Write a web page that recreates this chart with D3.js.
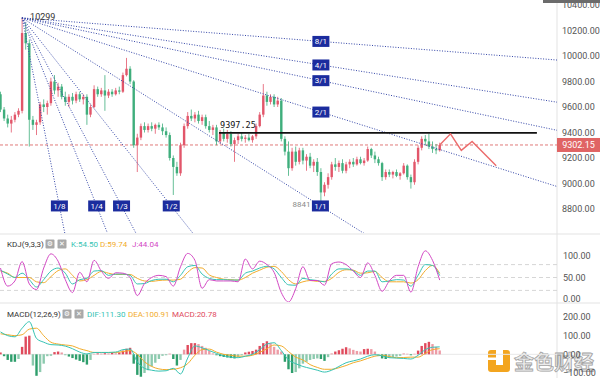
<!DOCTYPE html>
<html>
<head>
<meta charset="utf-8">
<script src="https://cdn.jsdelivr.net/npm/d3@7/dist/d3.min.js"></script>
<style>
  body { margin: 0; background: #fff; }
  svg { display: block; font-family: Roboto, "Noto Sans", sans-serif; }
</style>
</head>
<body>
<svg id="chart"></svg>
<script>
// ---- candles (one per bar) ----
const opens = [
  9700, 9580, 9510, 9470, 9500, 9540, 9570, 10180, 10100, 9500,
  9460, 9480, 9620, 9600, 9630, 9800, 9730, 9760, 9680, 9640,
  9680, 9650, 9700, 9660, 9680, 9540, 9600, 9740, 9700, 9730,
  9690, 9720, 9700, 9730, 9720, 9850, 9900, 9800, 9300, 9360,
  9450, 9420, 9450, 9430, 9460, 9440, 9410, 9380, 9200, 9130,
  9080, 9300, 9450, 9530, 9510, 9540, 9490, 9520, 9450, 9420,
  9440, 9330, 9400, 9350, 9390, 9310, 9340, 9370, 9350, 9360,
  9340, 9370, 9450, 9540, 9690, 9640, 9680, 9620, 9650, 9350,
  9250, 9120, 9250, 9170, 9260, 9180, 9210, 9140, 9170, 9090,
  8930, 8990, 9050, 9150, 9130, 9160, 9100, 9150, 9170, 9150,
  9190, 9160, 9180, 9270, 9220, 9190, 9160, 9050, 9090, 9070,
  9090, 9060, 9080, 9140, 9050, 9010, 9170, 9280, 9350, 9330,
  9290, 9270, 9260
];
const highs = [
  9720, 9600, 9540, 9530, 9560, 9590, 10299, 10260, 10130, 9530,
  9500, 9640, 9660, 9650, 9830, 9850, 9790, 9780, 9720, 9700,
  9710, 9720, 9720, 9700, 9700, 9620, 9770, 9760, 9750, 9850,
  9740, 9740, 9750, 9760, 9870, 9985, 9920, 9810, 9390, 9470,
  9480, 9470, 9480, 9470, 9480, 9470, 9440, 9400, 9220, 9170,
  9320, 9470, 9560, 9580, 9560, 9570, 9540, 9540, 9490, 9460,
  9460, 9420, 9430, 9420, 9410, 9360, 9390, 9400, 9380, 9390,
  9380, 9470, 9560, 9780, 9720, 9700, 9700, 9680, 9670, 9370,
  9330, 9280, 9290, 9280, 9280, 9230, 9240, 9190, 9200, 9120,
  9010, 9080, 9170, 9200, 9180, 9190, 9170, 9190, 9200, 9210,
  9210, 9200, 9290, 9280, 9250, 9210, 9170, 9110, 9110, 9100,
  9110, 9090, 9160, 9150, 9070, 9190, 9300, 9370, 9380, 9390,
  9330, 9310, 9320
];
const lows = [
  9560, 9490, 9440, 9400, 9480, 9520, 9550, 10050, 9290, 9420,
  9380, 9460, 9560, 9540, 9610, 9700, 9680, 9660, 9610, 9600,
  9620, 9630, 9640, 9620, 9460, 9520, 9590, 9680, 9680, 9570,
  9670, 9680, 9690, 9700, 9710, 9840, 9780, 9280, 9090, 9340,
  9400, 9400, 9410, 9390, 9420, 9380, 9360, 9180, 8910, 9060,
  9060, 9280, 9430, 9490, 9480, 9470, 9460, 9430, 9400, 9380,
  9300, 9310, 9330, 9320, 9290, 9170, 9310, 9330, 9320, 9330,
  9320, 9350, 9440, 9520, 9610, 9620, 9600, 9600, 9330, 9220,
  9060, 9100, 9140, 9150, 9150, 9100, 9120, 9090, 9060, 8841,
  8900, 8960, 9030, 9100, 9090, 9080, 9080, 9120, 9130, 9140,
  9150, 9140, 9170, 9200, 9160, 9140, 9020, 9030, 9050, 9040,
  9050, 9030, 9070, 9030, 8960, 8990, 9150, 9260, 9300, 9270,
  9240, 9230, 9250
];
const closes = [
  9580, 9510, 9470, 9500, 9540, 9570, 10180, 10100, 9500, 9460,
  9480, 9620, 9600, 9630, 9800, 9730, 9760, 9680, 9640, 9680,
  9650, 9700, 9660, 9680, 9540, 9600, 9740, 9700, 9730, 9690,
  9720, 9700, 9730, 9720, 9850, 9900, 9800, 9300, 9360, 9450,
  9420, 9450, 9430, 9460, 9440, 9410, 9380, 9200, 9130, 9080,
  9300, 9450, 9530, 9510, 9540, 9490, 9520, 9450, 9420, 9440,
  9330, 9400, 9350, 9390, 9310, 9340, 9370, 9350, 9360, 9340,
  9370, 9450, 9540, 9690, 9640, 9680, 9620, 9650, 9350, 9250,
  9120, 9250, 9170, 9260, 9180, 9210, 9140, 9170, 9090, 8930,
  8990, 9050, 9150, 9130, 9160, 9100, 9150, 9170, 9150, 9190,
  9160, 9180, 9270, 9220, 9190, 9160, 9050, 9090, 9070, 9090,
  9060, 9080, 9140, 9050, 9010, 9170, 9280, 9350, 9330, 9290,
  9270, 9260, 9302.15
];

// ---- indicator lines, read every 2nd bar ----
const sampleBars = d3.range(0, 123, 2);
const kVals = [67,58,50,60,45,28,45,65,72,60, 35,45,48,65,66,55,58,58,55,35, 36,43,46,46,40,55,75,78,58,48,
  45,45,44,44,60,65,72,76,70,50, 33,32,48,45,43,40,58,70,70,66, 55,65,65,40,42,45,44,30,55,80, 78,54.5];
const dVals = [65,60,50,50,50,40,38,52,66,70, 55,42,45,55,64,60,57,57,57,48, 42,41,43,44,44,46,62,73,72,56,
  50,46,45,44,50,60,67,74,76,64, 45,35,40,43,41,41,48,62,68,67, 60,61,64,50,40,40,40,37,45,66, 78,59.74];
const jVals = [72,30,42,87,35,22,72,105,88,45, 15,62,40,90,65,48,61,60,50,8, 36,50,55,52,30,75,106,90,25,45,
  42,42,42,40,93,70,88,80,62,15, -7,24,75,43,43,32,82,86,80,65, 50,84,55,18,42,55,55,16,75,112, 90,44.04];
const difVals = [120,100,94,140,175,85,65,52,50,44, 30,12,2,10,10,10,12,25,28,-40, -75,-85,-90,-88,-75,-105,-20,45,35,20,
  5,-8,-15,-18,-10,0,25,55,62,20, -30,-50,-65,-75,-85,-95,-85,-65,-45,-35, -25,-10,-2,-8,-18,-20,-22,-25,-5,25, 38,40];
const deaVals = [110,105,100,105,135,140,100,65,55,50, 45,30,20,10,10,10,10,15,20,0, -40,-65,-78,-82,-80,-72,-50,-5,25,28,
  12,0,-5,-10,-10,-5,10,30,50,45, 15,-15,-30,-55,-70,-80,-80,-72,-60,-45, -35,-22,-10,-5,-12,-18,-17,-15,-15,5, 25,30];
// MACD histogram, one per bar
const histVals = [
  10,-10,-30,-40,-40,-25,40,95,100,-60,
  -115,-95,-50,-10,-8,12,15,10,-5,-12,
  -20,-28,-35,-42,-55,-30,3,5,4,6,
  5,8,6,10,20,30,35,-50,-110,-120,
  -100,-85,-65,-45,-25,-8,-5,4,-25,-60,
  -30,25,50,60,60,55,45,35,18,5,
  -5,-10,-14,-17,-20,-22,-15,-5,10,14,
  18,25,45,60,70,60,40,25,15,-40,
  -80,-100,-95,-75,-50,-40,-30,-25,-22,-25,
  -35,-15,5,15,22,30,38,32,24,18,
  15,28,30,28,15,-10,-22,-25,-20,-15,
  -12,-8,5,3,-5,3,20,45,60,67,
  55,40,20.78
];

// ---- drawings ----
const fanLabels = ["1/8","1/4","1/3","1/2","1/1","2/1","3/1","4/1","8/1"];
const fanFactors = [8, 4, 3, 2, 1, 1/2, 1/3, 1/4, 1/8];
const fanOriginBar = 6, fanOriginPrice = 10299, fanUnit = 17.8;
const levelPrice = 9397.25, levelFrom = 60.7, levelTo = 149;
const lastPrice = 9302.15;
const projBars = [122, 125, 128, 131, 137.7];
const projPrices = [9302.15, 9390, 9260, 9330, 9140];

const priceTicks = [8800, 9000, 9200, 9400, 9600, 9800, 10000, 10200, 10400];
const kdjTicks = [0, 50, 100];
const kdjLevels = [20, 50, 80];
const macdTicks = [-100, 0, 100, 200];

const W = 600, H = 378, right = 557;
const red = '#e2566a', green = '#3fae7c';
const cK = '#35c3b3', cD = '#f2ac2b', cJ = '#d348c4';

const svg = d3.select('#chart').attr('width', W).attr('height', H);
const defs = svg.append('defs');
function clip(id, y0, h) {
  defs.append('clipPath').attr('id', id).append('rect')
    .attr('x', 0).attr('y', y0).attr('width', right).attr('height', h);
}
clip('cMain', 0, 233);
clip('cKdj', 235, 67);
clip('cMacd', 304, 74);

const x = d3.scaleLinear().domain([0, 154]).range([0.5, 0.5 + 3.6 * 154]);
const yP = d3.scaleLinear().domain([8800, 10400]).range([209, 5]);
const yK = d3.scaleLinear().domain([0, 100]).range([299, 256]);
const yM = d3.scaleLinear().domain([-100, 200]).range([373, 317]);
const bw = 2.4;

// panel frames
svg.append('line').attr('x1', right).attr('x2', right).attr('y1', 0).attr('y2', H)
  .attr('stroke', '#e3e3e3');
[234, 303].forEach(y => svg.append('line').attr('x1', 0).attr('x2', W)
  .attr('y1', y).attr('y2', y).attr('stroke', '#e3e3e3'));

// ---- watermark (under everything else) ----
const wm = svg.append('g');
wm.append('rect').attr('x', 488).attr('y', 350).attr('width', 22).attr('height', 22).attr('rx', 3)
  .attr('fill', '#f3a51f');
wm.append('rect').attr('x', 496).attr('y', 348).attr('width', 7).attr('height', 17).attr('fill', '#fff');
wm.append('rect').attr('x', 486).attr('y', 357.5).attr('width', 10).attr('height', 2.5).attr('fill', '#fff');
wm.append('text').attr('x', 514).attr('y', 370)
  .attr('fill', '#ececec').attr('stroke', '#a3a3a3').attr('stroke-width', 0.8)
  .style('font-family', '"Noto Sans CJK SC", sans-serif').style('font-size', '20px').style('font-weight', 'bold')
  .text('金色财经');

// ---- main panel ----
const main = svg.append('g').attr('clip-path', 'url(#cMain)');
const candles = d3.range(closes.length).map(i => ({i, o: opens[i], h: highs[i], l: lows[i], c: closes[i]}));

main.append('line')
  .attr('x1', 0).attr('x2', right)
  .attr('y1', yP(lastPrice)).attr('y2', yP(lastPrice))
  .attr('stroke', '#e07a7a').attr('stroke-dasharray', '3,2');

const cg = main.selectAll('g.candle').data(candles).join('g').attr('class', 'candle');
cg.append('line')
  .attr('x1', d => x(d.i)).attr('x2', d => x(d.i))
  .attr('y1', d => yP(d.h)).attr('y2', d => yP(d.l))
  .attr('stroke', d => d.c >= d.o ? red : green).attr('stroke-width', 0.8);
cg.append('rect')
  .attr('x', d => x(d.i) - bw / 2).attr('width', bw)
  .attr('y', d => yP(Math.max(d.o, d.c)))
  .attr('height', d => Math.max(1, Math.abs(yP(d.o) - yP(d.c))))
  .attr('fill', d => d.c >= d.o ? red : green);

// gann fan
fanFactors.forEach((f, k) => {
  const endBar = 220;
  main.append('line')
    .attr('x1', x(fanOriginBar)).attr('y1', yP(fanOriginPrice))
    .attr('x2', x(endBar)).attr('y2', yP(fanOriginPrice - fanUnit * f * (endBar - fanOriginBar)))
    .attr('stroke', '#3446a8').attr('stroke-width', 1).attr('stroke-dasharray', '1,1.6');
});
fanFactors.forEach((f, k) => {
  const lb = Math.min(89, fanOriginBar + (fanOriginPrice - 8824) / (fanUnit * f));
  const lp = fanOriginPrice - fanUnit * f * (lb - fanOriginBar);
  const g = main.append('g').attr('transform', `translate(${x(lb)},${yP(lp)})`);
  g.append('rect').attr('x', -8.5).attr('y', -5.5).attr('width', 17).attr('height', 11)
    .attr('fill', '#1b2c9e');
  g.append('text').attr('text-anchor', 'middle').attr('dy', '0.35em')
    .attr('fill', '#fff').style('font-size', '8px').text(fanLabels[k]);
});

main.append('text')
  .attr('x', x(fanOriginBar) + 8).attr('y', yP(fanOriginPrice) + 2)
  .attr('fill', '#333').style('font-size', '9px').text('10299');
main.append('text')
  .attr('x', x(89) - 10.5).attr('y', yP(8841) + 3).attr('text-anchor', 'end')
  .attr('fill', '#8a8a8a').style('font-size', '8px').text('8841');

// horizontal level
main.append('line')
  .attr('x1', x(levelFrom)).attr('x2', x(levelTo))
  .attr('y1', yP(levelPrice)).attr('y2', yP(levelPrice))
  .attr('stroke', '#111').attr('stroke-width', 1.6);
main.append('text')
  .attr('x', x(levelFrom) + 1).attr('y', yP(levelPrice) - 5)
  .attr('fill', '#111').style('font-family', '"DejaVu Sans Mono", monospace').style('font-size', '8.5px')
  .text(levelPrice.toFixed(2));

// projected path
main.append('path')
  .attr('d', d3.line().x((d, i) => x(projBars[i])).y(d => yP(d))(projPrices))
  .attr('fill', 'none').attr('stroke', '#ec6b6b').attr('stroke-width', 1.4);

// price axis
const axisStyle = g => {
  g.select('.domain').remove();
  g.selectAll('text').attr('fill', '#555').style('font-size', '9px')
    .style('font-family', 'Roboto, sans-serif');
};
svg.append('g').attr('transform', `translate(${right},0)`)
  .call(d3.axisRight(yP).tickValues(priceTicks).tickSize(0).tickPadding(5).tickFormat(d3.format('.2f')))
  .call(axisStyle);
svg.append('rect').attr('x', 543).attr('y', 0).attr('width', 57).attr('height', 3).attr('fill', '#6b6b6b');

// last price tag
svg.append('rect').attr('x', right).attr('y', yP(lastPrice) - 7).attr('width', 43).attr('height', 14)
  .attr('fill', '#e06464');
svg.append('text').attr('x', right + 21.5).attr('y', yP(lastPrice)).attr('dy', '0.35em')
  .attr('text-anchor', 'middle').attr('fill', '#fff').style('font-size', '9px')
  .text(lastPrice.toFixed(2));

// ---- KDJ panel ----
const kdj = svg.append('g').attr('clip-path', 'url(#cKdj)');
kdjLevels.forEach(v => kdj.append('line')
  .attr('x1', 0).attr('x2', right).attr('y1', yK(v)).attr('y2', yK(v))
  .attr('stroke', '#d6d6d6').attr('stroke-dasharray', '4,3'));
[[dVals, cD], [kVals, cK], [jVals, cJ]].forEach(([vals, col]) => {
  kdj.append('path')
    .attr('d', d3.line().curve(d3.curveMonotoneX).x((d, i) => x(sampleBars[i])).y(d => yK(d))(vals))
    .attr('fill', 'none').attr('stroke', col).attr('stroke-width', 1);
});
svg.append('g').attr('transform', `translate(${right},0)`)
  .call(d3.axisRight(yK).tickValues(kdjTicks).tickSize(0).tickPadding(6).tickFormat(d3.format('.2f')))
  .call(axisStyle);

function header(y, items, iconX) {
  const g = svg.append('g');
  items.forEach(it => g.append('text').attr('x', it.x).attr('y', y).attr('dy', '0.35em')
    .attr('fill', it.c).style('font-size', '8px').text(it.t));
  iconX.forEach((ix, k) => {
    g.append('rect').attr('x', ix).attr('y', y - 4.5).attr('width', 9).attr('height', 9)
      .attr('rx', 1).attr('fill', '#a9a9a9');
    g.append('text').attr('x', ix + 4.5).attr('y', y).attr('dy', '0.35em').attr('text-anchor', 'middle')
      .attr('fill', '#fff').style('font-size', '7px').style('font-family', '"DejaVu Sans", sans-serif')
      .text(k === 0 ? '\u2699' : '\u2715');
  });
}
header(244, [
  {x: 7, t: 'KDJ(9,3,3)', c: '#333'},
  {x: 71, t: 'K:' + kVals[kVals.length - 1].toFixed(2), c: cK},
  {x: 100, t: 'D:' + dVals[dVals.length - 1].toFixed(2), c: cD},
  {x: 132, t: 'J:' + jVals[jVals.length - 1].toFixed(2), c: cJ}
], [45.5, 57.5]);

// ---- MACD panel ----
const macd = svg.append('g').attr('clip-path', 'url(#cMacd)');
macd.append('line').attr('x1', 0).attr('x2', right).attr('y1', yM(0)).attr('y2', yM(0))
  .attr('stroke', '#e8e8e8');
macd.selectAll('rect.h').data(histVals).join('rect').attr('class', 'h')
  .attr('x', (d, i) => x(i) - 1.2).attr('width', 2.4)
  .attr('y', d => yM(Math.max(0, d)))
  .attr('height', d => Math.abs(yM(d) - yM(0)))
  .attr('fill', d => d >= 0 ? '#e04a5c' : '#2e9e6c')
  .attr('fill-opacity', (d, i) => i > 0 && Math.abs(d) < Math.abs(histVals[i - 1]) ? 0.55 : 1);
[[deaVals, cD], [difVals, cK]].forEach(([vals, col]) => {
  macd.append('path')
    .attr('d', d3.line().curve(d3.curveMonotoneX).x((d, i) => x(sampleBars[i])).y(d => yM(d))(vals))
    .attr('fill', 'none').attr('stroke', col).attr('stroke-width', 1);
});
svg.append('g').attr('transform', `translate(${right},0)`)
  .call(d3.axisRight(yM).tickValues(macdTicks).tickSize(0).tickPadding(6).tickFormat(d3.format('.2f')))
  .call(axisStyle);

header(314, [
  {x: 7, t: 'MACD(12,26,9)', c: '#333'},
  {x: 87, t: 'DIF:111.30', c: cK},
  {x: 128, t: 'DEA:100.91', c: cD},
  {x: 172, t: 'MACD:' + histVals[histVals.length - 1].toFixed(2), c: '#e04a5c'}
], [62.5, 74.5]);
</script>
</body>
</html>
